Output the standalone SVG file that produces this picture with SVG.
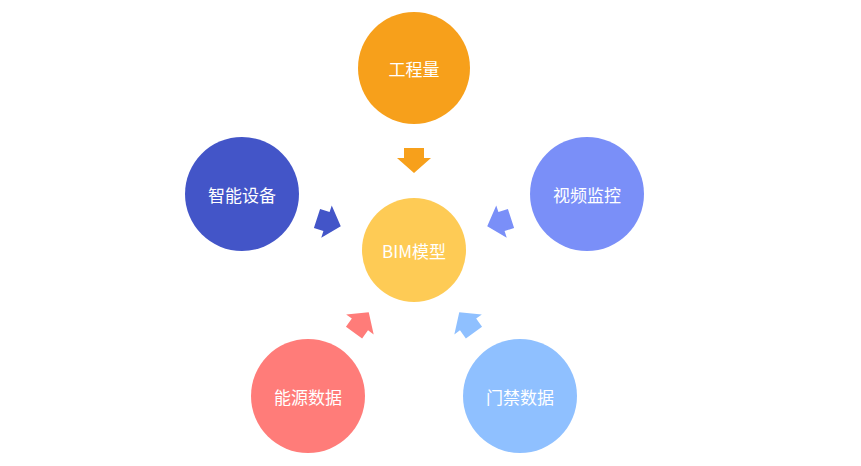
<svg xmlns="http://www.w3.org/2000/svg" width="861" height="466" viewBox="0 0 861 466">
<defs>
<style>
text{font-family:"Noto Sans CJK SC","Noto Sans",sans-serif;font-size:17px;fill:#fff;text-anchor:middle;dominant-baseline:central}
</style>
<path id="arr" d="M-12.5,-10 L-2.5,-10 L-2.5,-17 L12.5,0 L-2.5,17 L-2.5,10 L-12.5,10 Z"/>
</defs>
<rect width="861" height="466" fill="#fff"/>
<g id="connectors">
<use href="#arr" fill="#F7A01B" transform="translate(414,250) rotate(90) translate(-89.5,0)"/>
<use href="#arr" fill="#4355C8" transform="translate(414,250) rotate(18) translate(-89.5,0)"/>
<use href="#arr" fill="#7A8FF8" transform="translate(414,250) rotate(162) translate(-89.5,0)"/>
<use href="#arr" fill="#FF7C79" transform="translate(414,250) rotate(-54) translate(-89.5,0)"/>
<use href="#arr" fill="#8FC0FF" transform="translate(414,250) rotate(234) translate(-89.5,0)"/>
</g>
<g id="n-gcl"><circle cx="414" cy="68" r="56" fill="#F7A01B"/><text x="414" y="68">工程量</text></g>
<g id="n-znsb"><circle cx="242" cy="194" r="57" fill="#4355C8"/><text x="242" y="194">智能设备</text></g>
<g id="n-spjk"><circle cx="587" cy="194" r="57" fill="#7A8FF8"/><text x="587" y="194">视频监控</text></g>
<g id="n-bim"><circle cx="414" cy="250" r="52" fill="#FECB55"/><text x="414" y="250">BIM模型</text></g>
<g id="n-nysj"><circle cx="308" cy="396" r="57" fill="#FF7C79"/><text x="308" y="396">能源数据</text></g>
<g id="n-mjsj"><circle cx="520" cy="396" r="57" fill="#8FC0FF"/><text x="520" y="396">门禁数据</text></g>
</svg>
